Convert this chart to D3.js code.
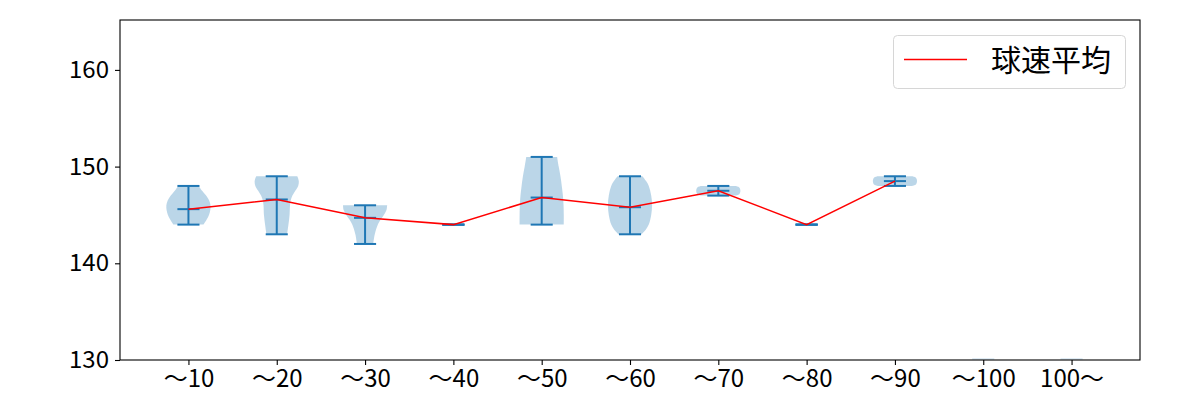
<!DOCTYPE html>
<html>
<head>
<meta charset="utf-8">
<script src="https://cdn.jsdelivr.net/npm/d3@7"></script>
<style>
  html, body { margin: 0; padding: 0; background: #fff; }
  svg text { font-family: "Noto Sans CJK JP", "Noto Sans", sans-serif; }
</style>
</head>
<body>
<svg id="chart" width="1200" height="400"></svg>
<script>
// ---- data ----
const categories = ["〜10", "〜20", "〜30", "〜40", "〜50", "〜60", "〜70", "〜80", "〜90", "〜100", "100〜"];
const minValues  = [144, 143, 142, 144, 144, 143, 147, 144, 148, null, null];
const maxValues  = [148, 149, 146, 144, 151, 149, 148, 144, 149, null, null];
const meanValues = [145.6, 146.6, 144.7, 144, 146.8, 145.8, 147.5, 144, 148.5, null, null];
// violin outlines: [speed, relative half-width]
const violinProfiles = [
  [[148,0.46],[147.5,0.62],[147,0.8],[146.5,0.94],[146,1.0],[145.5,0.99],[145,0.93],[144.5,0.82],[144,0.68]],
  [[149,0.93],[148.5,1.0],[148,0.97],[147.5,0.84],[147,0.71],[146.5,0.63],[146,0.6],[145,0.58],[144,0.53],[143,0.47]],
  [[146,1.0],[145.5,0.97],[145,0.85],[144.5,0.7],[144,0.58],[143,0.44],[142,0.37]],
  [],
  [[151,0.7],[150,0.77],[149,0.85],[148,0.91],[147,0.96],[146,0.99],[145,1.0],[144,1.0]],
  [[149,0.56],[148.5,0.73],[148,0.85],[147,0.96],[146,1.0],[145,0.96],[144,0.85],[143.5,0.72],[143,0.52]],
  [[148,0.78],[147.85,0.95],[147.5,1.0],[147.15,0.95],[147,0.78]],
  [],
  [[149,0.78],[148.85,0.95],[148.5,1.0],[148.15,0.95],[148,0.78]],
  [[130.2,0.5],[130,0.5]],
  [[130.2,0.5],[130,0.5]]
];
const yTicks = [130, 140, 150, 160];
const legendLabel = "球速平均";

// ---- layout ----
const svg = d3.select("#chart");
const mLeft = 120, mRight = 1140, mTop = 20, mBottom = 360;
const x = d3.scaleLinear().domain([0.225, 11.775]).range([mLeft, mRight]);
const y = d3.scaleLinear().domain([130, 165.16]).range([mBottom, mTop]);
const blue = "#1f77b4";
const halfW = x(1.25) - x(1);   // violin half width (widths = 0.5)
const capW = halfW / 2;

const defs = svg.append("defs");
defs.append("clipPath").attr("id", "clip").append("rect")
  .attr("x", mLeft).attr("y", mTop).attr("width", mRight - mLeft).attr("height", mBottom - mTop);

const plot = svg.append("g").attr("clip-path", "url(#clip)");

// violin bodies
violinProfiles.forEach((prof, i) => {
  if (!prof.length) return;
  const cx = x(i + 1);
  const area = d3.area()
    .y(d => y(d[0]))
    .x0(d => cx - d[1] * halfW)
    .x1(d => cx + d[1] * halfW)
    .curve(d3.curveCatmullRom);
  plot.append("path").attr("d", area(prof))
    .attr("fill", blue).attr("fill-opacity", i >= 9 ? 0.15 : 0.3).attr("stroke", "none");
});

// violin lines (extrema, bars, means)
categories.forEach((c, i) => {
  if (minValues[i] == null) return;
  const cx = x(i + 1);
  const g = plot.append("g").attr("stroke", blue).attr("stroke-width", 2);
  g.append("line").attr("x1", cx).attr("x2", cx).attr("y1", y(minValues[i])).attr("y2", y(maxValues[i]));
  [minValues[i], maxValues[i], meanValues[i]].forEach(v => {
    g.append("line").attr("x1", cx - capW).attr("x2", cx + capW).attr("y1", y(v)).attr("y2", y(v));
  });
});

// mean line
const meanPts = meanValues.map((v, i) => [i + 1, v]).filter(d => d[1] != null);
plot.append("path")
  .attr("d", d3.line().x(d => x(d[0])).y(d => y(d[1]))(meanPts))
  .attr("fill", "none").attr("stroke", "#ff0000").attr("stroke-width", 1.5);

// axes
const xAxis = d3.axisBottom(x).tickValues(d3.range(1, categories.length + 1))
  .tickFormat(d => categories[d - 1]).tickSize(5).tickPadding(5);
const gx = svg.append("g").attr("transform", `translate(0,${mBottom})`).call(xAxis);
gx.select(".domain").remove();
gx.selectAll("text").attr("font-size", 24).attr("fill", "#000")
  .style("font-family", '"Noto Sans CJK JP", sans-serif');
gx.selectAll("line").attr("stroke", "#000").attr("stroke-width", 1.1);

const yAxis = d3.axisLeft(y).tickValues(yTicks).tickSize(5).tickPadding(6);
const gy = svg.append("g").attr("transform", `translate(${mLeft},0)`).call(yAxis);
gy.select(".domain").remove();
gy.selectAll("text").attr("font-size", 24).attr("fill", "#000")
  .style("font-family", '"Noto Sans CJK JP", sans-serif');
gy.selectAll("line").attr("stroke", "#000").attr("stroke-width", 1.1);

// frame
svg.append("rect").attr("x", mLeft).attr("y", mTop).attr("width", mRight - mLeft).attr("height", mBottom - mTop)
  .attr("fill", "none").attr("stroke", "#000").attr("stroke-width", 1.1);

// legend
const lg = svg.append("g");
lg.append("rect").attr("x", 893.5).attr("y", 35.5).attr("width", 232).attr("height", 53)
  .attr("rx", 4).attr("fill", "#fff").attr("fill-opacity", 0.8).attr("stroke", "#d6d6d6").attr("stroke-width", 1);
lg.append("line").attr("x1", 904).attr("x2", 967).attr("y1", 59.5).attr("y2", 59.5)
  .attr("stroke", "#ff0000").attr("stroke-width", 1.5);
lg.append("text").attr("x", 991).attr("y", 71).attr("font-size", 30).attr("fill", "#000")
  .text(legendLabel);
</script>
</body>
</html>
